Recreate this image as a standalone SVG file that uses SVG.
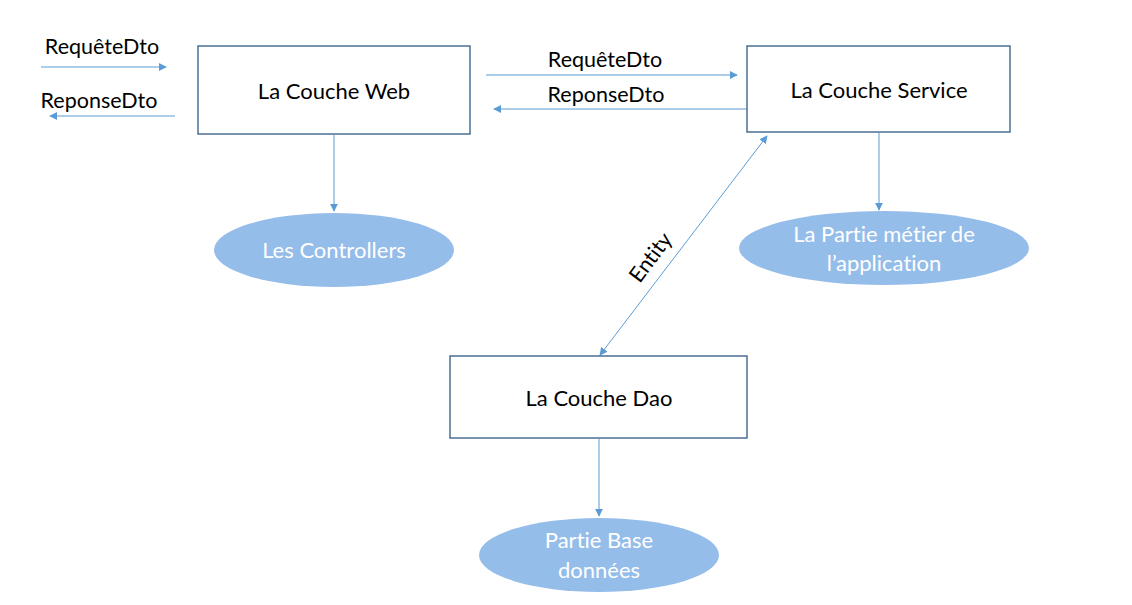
<svg xmlns="http://www.w3.org/2000/svg" width="1132" height="605" viewBox="0 0 1132 605">
<defs>
<marker id="ah" viewBox="0 0 10 10" refX="9" refY="5" markerWidth="8" markerHeight="8" markerUnits="userSpaceOnUse" orient="auto-start-reverse">
<path d="M0,0 L10,5 L0,10 z" fill="#5b9bd5"/>
</marker>
<style>
.box{fill:#fff;stroke:#4a6f94;stroke-width:1.5}
.ell{fill:#95bde9;stroke:none}
.t{font-family:Lato,"Open Sans","Liberation Sans",sans-serif;font-size:22px;fill:#000;text-anchor:middle;dominant-baseline:central;font-variant-ligatures:none}
.ta{font-size:21.5px}
.tw{font-family:Lato,"Open Sans","Liberation Sans",sans-serif;font-size:22px;fill:#fff;text-anchor:middle;dominant-baseline:central;font-variant-ligatures:none}
.c{stroke:#5b9bd5;stroke-width:1;fill:none}
</style>
</defs>
<rect width="1132" height="605" fill="#fff"/>
<g id="connectors">
<line class="c" x1="41" y1="67" x2="166" y2="67" marker-end="url(#ah)"/>
<line class="c" x1="175" y1="116" x2="50" y2="116" marker-end="url(#ah)"/>
<line class="c" x1="486" y1="75" x2="737" y2="75" marker-end="url(#ah)"/>
<line class="c" x1="747" y1="109" x2="494" y2="109" marker-end="url(#ah)"/>
<line class="c" x1="334" y1="135" x2="334" y2="211" marker-end="url(#ah)"/>
<line class="c" x1="879" y1="133" x2="879" y2="210" marker-end="url(#ah)"/>
<line class="c" x1="599" y1="439" x2="599" y2="516" marker-end="url(#ah)"/>
<line class="c" x1="600" y1="355" x2="767" y2="136" marker-start="url(#ah)" marker-end="url(#ah)"/>
<text class="t ta" x="102" y="46">RequêteDto</text>
<text class="t ta" x="99" y="100">ReponseDto</text>
<text class="t ta" x="605" y="59">RequêteDto</text>
<text class="t ta" x="606" y="94">ReponseDto</text>
<text class="t ta" x="650" y="257" transform="rotate(-53 650 257)">Entity</text>
</g>
<g id="web">
<rect class="box" x="198" y="46" width="272" height="88"/>
<text class="t" x="334" y="90">La Couche Web</text>
</g>
<g id="service">
<rect class="box" x="747" y="46" width="263" height="86"/>
<text class="t" x="879" y="89">La Couche Service</text>
</g>
<g id="dao">
<rect class="box" x="450" y="356" width="297" height="82"/>
<text class="t" x="599" y="397">La Couche Dao</text>
</g>
<g id="controllers">
<ellipse class="ell" cx="334" cy="250" rx="120" ry="37"/>
<text class="tw" x="334" y="249">Les Controllers</text>
</g>
<g id="metier">
<ellipse class="ell" cx="884" cy="248" rx="145" ry="37"/>
<text class="tw" x="884" y="233">La Partie métier de</text>
<text class="tw" x="884" y="262">l’application</text>
</g>
<g id="base">
<ellipse class="ell" cx="599" cy="555" rx="120" ry="37"/>
<text class="tw" x="599" y="539">Partie Base</text>
<text class="tw" x="599" y="569">données</text>
</g>
</svg>
